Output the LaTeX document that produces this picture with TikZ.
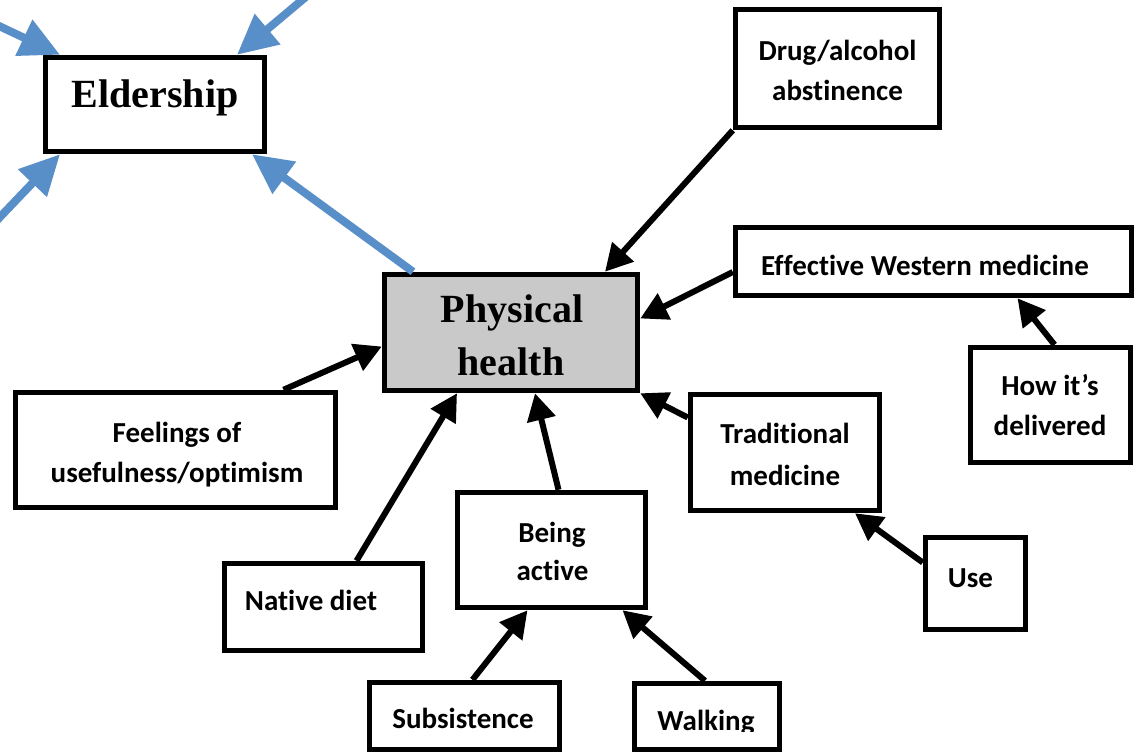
\documentclass[tikz,border=0pt]{standalone}
\usepackage{fontspec}
\setmainfont{Liberation Serif}
\newfontfamily\calibfont[Ligatures=NoCommon]{Carlito}
\usetikzlibrary{arrows.meta,calc}
\definecolor{eblue}{RGB}{88,143,200}
\definecolor{pgray}{RGB}{201,201,201}
\begin{document}
\begin{tikzpicture}[x=1pt,y=-1pt,
  box/.style={draw=black, line width=5.5pt, fill=white, inner sep=0pt, rectangle},
  st/.style={font=\calibfont\bfseries\fontsize{29}{35}\selectfont, anchor=base, inner sep=0pt},
  sr/.style={font=\bfseries\fontsize{40}{48}\selectfont, anchor=base, inner sep=0pt},
  conn/.style={draw=black, line width=6pt, -{Triangle[length=27pt,width=28pt]}},
  bconn/.style={draw=eblue, line width=8pt, -{Triangle[length=40pt,width=38pt]}}]
\useasboundingbox (0,0) rectangle (1142,753);
\fill[white] (0,0) rectangle (1142,753);

% boxes
\node[box, minimum width=219pt, minimum height=94pt] (elder) at (155,104.5) {};
\node[box, fill=pgray, minimum width=253pt, minimum height=116pt] (phys) at (511,332.5) {};
\node[box, minimum width=204pt, minimum height=118pt] (drug) at (837.5,68.5) {};
\node[box, minimum width=396pt, minimum height=68pt] (eff) at (933.5,261.5) {};
\node[box, minimum width=160pt, minimum height=115pt] (how) at (1050.5,405) {};
\node[box, minimum width=189pt, minimum height=116pt] (trad) at (785,452.5) {};
\node[box, minimum width=100pt, minimum height=92pt] (use) at (975.5,583.5) {};
\node[box, minimum width=320pt, minimum height=115pt] (feel) at (175.5,450) {};
\node[box, minimum width=198pt, minimum height=87pt] (native) at (323.5,607) {};
\node[box, minimum width=188pt, minimum height=115pt] (being) at (551.5,550) {};
\node[box, minimum width=190pt, minimum height=67pt] (subs) at (464.5,716) {};
\node[box, minimum width=145pt, minimum height=66pt] (walk) at (707,716.5) {};

% texts
\node[sr] (eldert) at (155,107) {Eldership};
\node[sr] (physt1) at (512,322) {Physical};
\node[sr] (physt2) at (511,375) {health};
\node[st] (drugt1) at (837.5,60) {Drug/alcohol};
\node[st] (drugt2) at (837.5,100) {abstinence};
\node[st] (efft) at (925,275) {Effective Western medicine};
\node[st] (howt1) at (1050,395) {How it’s};
\node[st] (howt2) at (1050,435) {delivered};
\node[st] (tradt1) at (785,443) {Traditional};
\node[st] (tradt2) at (785,485) {medicine};
\node[st] (uset) at (970.5,587) {Use};
\node[st] (feelt1) at (177,442) {Feelings of};
\node[st] (feelt2) at (177,482) {usefulness/optimism};
\node[st] (nativet) at (311,610) {Native diet};
\node[st] (beingt1) at (552,542) {Being};
\node[st] (beingt2) at (552.5,580) {active};
\begin{scope}
  \clip (300,660) rectangle (800,731);
  \node[st] (subst) at (463,728) {Subsistence};
  \node[st] (walkt) at (706,730) {Walking};
\end{scope}

% black connectors
\draw[conn] (drug.south west) -- ([xshift=94pt]phys.north);
\draw[conn] ([yshift=-10.5pt]eff.west) -- ([yshift=14pt]phys.east);
\draw[conn] ([xshift=4pt]how.north) -- ([xshift=84pt]eff.south);
\draw[conn] ([yshift=35pt]trad.west) -- (phys.south east);
\draw[conn] ([yshift=21pt]use.west) -- ([xshift=70pt]trad.south);
\draw[conn] ([xshift=108pt]feel.north) -- ([yshift=-14pt]phys.west);
\draw[conn] ([xshift=33pt]native.north) -- ([xshift=-54pt]phys.south);
\draw[conn] ([xshift=7pt]being.north) -- ([xshift=24pt]phys.south);
\draw[conn] ([xshift=8pt]subs.north) -- ([xshift=-24pt]being.south);
\draw[conn] ([xshift=-2pt]walk.north) -- ([xshift=71pt]being.south);

% blue connectors
\coordinate (b1) at (-20,17);
\coordinate (b2) at (326,-20);
\coordinate (b3) at (-20,238);
\draw[bconn] (b1) -- ([xshift=-95pt]elder.north);
\draw[bconn] (b2) -- ([xshift=82pt]elder.north);
\draw[bconn] (b3) -- ([xshift=-95pt]elder.south);
\draw[bconn] ([xshift=-98pt]phys.north) -- ([xshift=97pt]elder.south);
\end{tikzpicture}
\end{document}
